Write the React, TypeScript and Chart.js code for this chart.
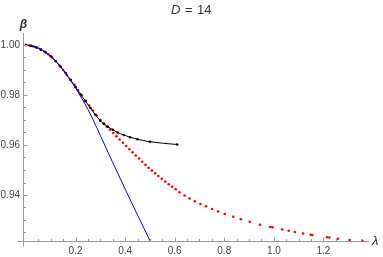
import React, { useEffect, useRef } from "react";
import { Chart, registerables } from "chart.js";

Chart.register(...registerables);

// Blue curve (λ, β)
const blueLambda = [0, 0.025, 0.05, 0.075, 0.1, 0.125, 0.15, 0.175, 0.2, 0.225, 0.25, 0.275, 0.3, 0.35, 0.4, 0.45, 0.5, 0.52];
const blueBeta = [1.0, 0.9997, 0.9988, 0.9973, 0.9954, 0.9929, 0.9899, 0.9865, 0.9828, 0.9787, 0.9742, 0.9692, 0.9638, 0.953, 0.9424, 0.932, 0.9218, 0.9177];

// Black curve with markers
const blackLambda = [0, 0.02, 0.04, 0.06, 0.08, 0.1, 0.12, 0.14, 0.16, 0.18, 0.2, 0.22, 0.24, 0.26, 0.28, 0.3, 0.315, 0.33, 0.35, 0.37, 0.395, 0.42, 0.45, 0.5, 0.61];
const blackBeta = [1.0, 0.9997, 0.9991, 0.9982, 0.997, 0.9955, 0.9936, 0.9913, 0.9888, 0.986, 0.9832, 0.9803, 0.9775, 0.9748, 0.9721, 0.9697, 0.9684, 0.9673, 0.9661, 0.965, 0.964, 0.9631, 0.9623, 0.9613, 0.9602];

// Red dots
const redLambda = [0, 0.015, 0.03, 0.045, 0.06, 0.075, 0.09, 0.105, 0.12, 0.135, 0.15, 0.165, 0.18, 0.195, 0.21, 0.225, 0.24, 0.255, 0.27, 0.285, 0.3, 0.313, 0.326, 0.339, 0.352, 0.365, 0.378, 0.391, 0.404, 0.417, 0.43, 0.443, 0.456, 0.469, 0.482, 0.495, 0.508, 0.521, 0.534, 0.548, 0.562, 0.576, 0.59, 0.604, 0.62, 0.64, 0.66, 0.681, 0.704, 0.726, 0.751, 0.775, 0.802, 0.836, 0.867, 0.903, 0.944, 0.985, 0.994, 1.034, 1.06, 1.085, 1.118, 1.149, 1.155, 1.215, 1.224, 1.259, 1.306, 1.357];
const redBeta = [1.0, 0.9998, 0.9994, 0.9989, 0.9981, 0.9973, 0.9963, 0.9951, 0.9935, 0.9918, 0.99, 0.988, 0.9861, 0.9841, 0.982, 0.9799, 0.9778, 0.9758, 0.9738, 0.9718, 0.97, 0.9687, 0.9674, 0.9661, 0.9648, 0.9635, 0.9622, 0.9609, 0.9596, 0.9583, 0.9571, 0.9558, 0.9546, 0.9533, 0.9521, 0.9509, 0.9498, 0.9487, 0.9476, 0.9465, 0.9454, 0.9443, 0.9433, 0.9423, 0.9411, 0.9398, 0.9386, 0.9375, 0.9364, 0.9355, 0.9344, 0.9334, 0.9324, 0.9313, 0.9303, 0.9293, 0.9281, 0.9272, 0.9271, 0.9262, 0.9257, 0.9252, 0.9246, 0.9241, 0.924, 0.9231, 0.923, 0.9225, 0.922, 0.9217];

const xTicks = [0.2, 0.4, 0.6, 0.8, 1.0, 1.2];
const xMinorTicks = [0.05, 0.1, 0.15, 0.25, 0.3, 0.35, 0.45, 0.5, 0.55, 0.65, 0.7, 0.75, 0.85, 0.9, 0.95, 1.05, 1.1, 1.15, 1.25, 1.3, 1.35];
const yTicks = [0.94, 0.96, 0.98, 1.0];
const yMinorTicks = [0.925, 0.93, 0.935, 0.945, 0.95, 0.955, 0.965, 0.97, 0.975, 0.985, 0.99, 0.995];

const titleMain = "D";
const titleEq = "=";
const titleNum = "14";
const xTitle = "λ";
const yTitle = "β";

const toPts = (xs: number[], ys: number[]) => xs.map((x, i) => ({ x, y: ys[i] }));

const FONT = '"Liberation Sans", Arial, sans-serif';
const AXIS = "#9a9a9a";

const decor = {
  id: "decor",
  afterDraw(chart: any) {
    const { ctx, chartArea, scales } = chart;
    const x = scales.x;
    const y = scales.y;
    const xb = Math.round(chartArea.bottom) + 0.5;
    const yl = Math.round(chartArea.left) + 0.5;
    ctx.save();
    ctx.strokeStyle = AXIS;
    ctx.lineWidth = 1;
    ctx.beginPath();
    ctx.moveTo(yl, xb);
    ctx.lineTo(yl, xb + 5);
    ctx.moveTo(yl - 6, xb);
    ctx.lineTo(yl, xb);
    xTicks.forEach((v) => {
      const p = Math.round(x.getPixelForValue(v)) + 0.5;
      ctx.moveTo(p, xb);
      ctx.lineTo(p, xb - 4);
    });
    xMinorTicks.forEach((v) => {
      const p = Math.round(x.getPixelForValue(v)) + 0.5;
      ctx.moveTo(p, xb);
      ctx.lineTo(p, xb - 2.5);
    });
    yTicks.forEach((v) => {
      const p = Math.round(y.getPixelForValue(v)) + 0.5;
      ctx.moveTo(yl, p);
      ctx.lineTo(yl + 4, p);
    });
    yMinorTicks.forEach((v) => {
      const p = Math.round(y.getPixelForValue(v)) + 0.5;
      ctx.moveTo(yl, p);
      ctx.lineTo(yl + 2.5, p);
    });
    ctx.stroke();

    ctx.fillStyle = "#333";
    ctx.textBaseline = "middle";
    ctx.textAlign = "left";
    ctx.font = `italic 13px ${FONT}`;
    ctx.fillText(titleMain, 171, 10);
    ctx.font = `13px ${FONT}`;
    ctx.fillText(titleEq, 185, 10);
    ctx.fillText(titleNum, 197, 10);

    ctx.font = `italic bold 12px ${FONT}`;
    ctx.textAlign = "center";
    ctx.fillText(yTitle, yl, 25);
    ctx.font = `italic 13px ${FONT}`;
    ctx.textAlign = "left";
    ctx.fillText(xTitle, 372, xb);
    ctx.restore();
  },
};

export default function App() {
  const ref = useRef<HTMLCanvasElement>(null);
  useEffect(() => {
    const chart = new Chart(ref.current as HTMLCanvasElement, {
      type: "scatter",
      data: {
        datasets: [
          {
            data: toPts(blueLambda, blueBeta),
            showLine: true,
            borderColor: "#0000ff",
            borderWidth: 1,
            pointRadius: 0,
            cubicInterpolationMode: "monotone",
            clip: 0,
          },
          {
            data: toPts(blackLambda, blackBeta),
            showLine: true,
            borderColor: "#000",
            borderWidth: 1,
            pointRadius: 1.3,
            pointBorderWidth: 0,
            pointBackgroundColor: "#000",
            cubicInterpolationMode: "monotone",
            clip: 0,
          },
          {
            data: toPts(redLambda, redBeta),
            showLine: false,
            pointRadius: 1.3,
            pointBorderWidth: 0,
            pointBackgroundColor: "#ff0000",
            clip: 2,
          },
        ],
      } as any,
      options: {
        animation: false,
        responsive: false,
        layout: { padding: { top: 33, right: 15, left: 0, bottom: 0 } },
        plugins: { legend: { display: false }, tooltip: { enabled: false }, title: { display: false } },
        scales: {
          x: {
            type: "linear",
            min: -0.0121,
            max: 1.38,
            grid: { display: false, drawTicks: false },
            border: { display: true, color: AXIS, width: 1 },
            ticks: {
              font: { size: 10, family: FONT },
              color: "#444",
              padding: 4,
              maxRotation: 0,
              autoSkip: false,
              callback: (v: any) => Number(v).toFixed(1),
            },
            afterBuildTicks: (s: any) => {
              s.ticks = xTicks.map((v) => ({ value: v }));
            },
            afterFit: (s: any) => {
              s.height = 16;
            },
          },
          y: {
            type: "linear",
            min: 0.9216,
            max: 1.0048,
            grid: { display: false, drawTicks: false },
            border: { display: true, color: AXIS, width: 1 },
            ticks: {
              font: { size: 10, family: FONT },
              color: "#444",
              padding: 3,
              autoSkip: false,
              callback: (v: any) => Number(v).toFixed(2),
            },
            afterBuildTicks: (s: any) => {
              s.ticks = yTicks.map((v) => ({ value: v }));
            },
            afterFit: (s: any) => {
              s.width = 23;
            },
          },
        },
      } as any,
      plugins: [decor],
    });
    return () => chart.destroy();
  }, []);
  return (
    <div style={{ position: "fixed", left: 0, top: 0, width: 383, height: 257, background: "#fff" }}>
      <canvas ref={ref} width={383} height={257} style={{ display: "block", width: 383, height: 257 }} />
    </div>
  );
}
